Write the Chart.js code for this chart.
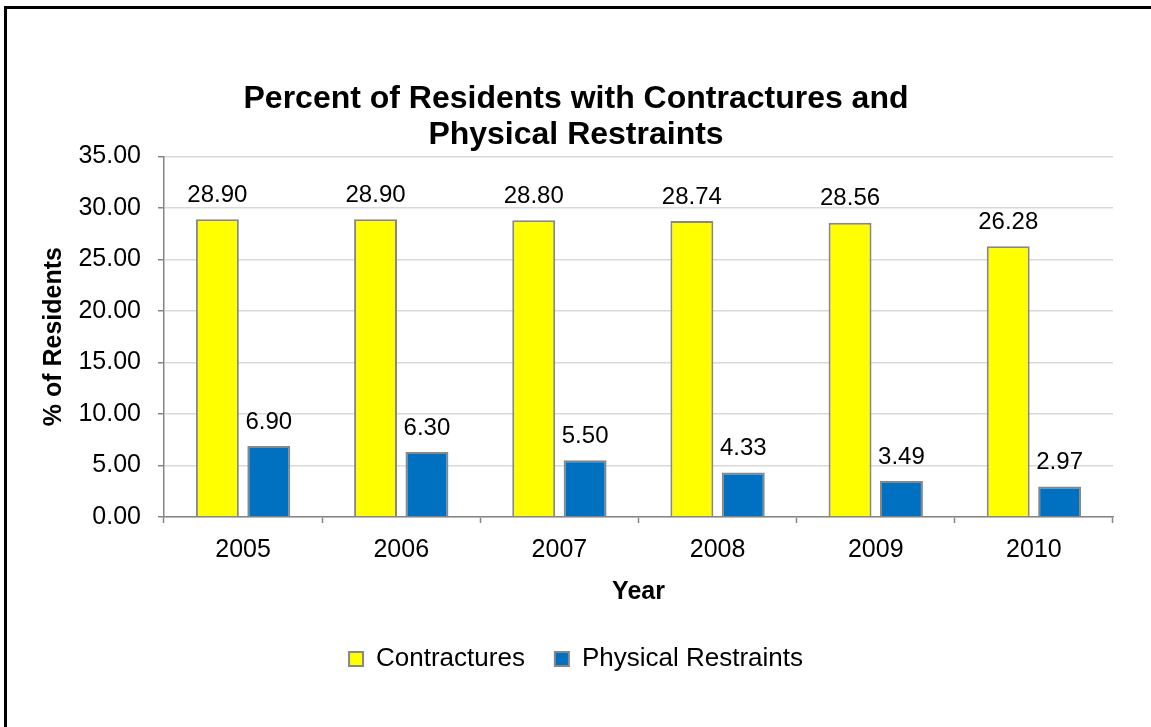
<!DOCTYPE html>
<html>
<head>
<meta charset="utf-8">
<script src="https://cdn.jsdelivr.net/npm/chart.js@4"></script>
<style>
    body { margin: 0; background: #fff; }
    #frame {
        position: absolute; left: 4px; top: 6px; width: 1300px; height: 900px;
        border-top: 3px solid #000; border-left: 3px solid #000;
    }
    #chart { position: absolute; left: 0; top: 0; }
</style>
</head>
<body>
<div id="frame"></div>
<canvas id="chart" width="1151" height="727"></canvas>
<script>
const years = ['2005', '2006', '2007', '2008', '2009', '2010'];
const contractures = [28.90, 28.90, 28.80, 28.74, 28.56, 26.28];
const restraints = [6.90, 6.30, 5.50, 4.33, 3.49, 2.97];
const yTicks = [0, 5, 10, 15, 20, 25, 30, 35];

const FONT = "'Liberation Sans', Arial, sans-serif";

// draws the value above each bar
const valueLabels = {
    id: 'valueLabels',
    afterDatasetsDraw(chart) {
        const ctx = chart.ctx;
        ctx.save();
        ctx.font = '24px ' + FONT;
        ctx.fillStyle = '#000';
        ctx.textAlign = 'center';
        ctx.textBaseline = 'middle';
        chart.data.datasets.forEach((ds, i) => {
            chart.getDatasetMeta(i).data.forEach((bar, j) => {
                ctx.fillText(ds.data[j].toFixed(2), bar.x, bar.y - 24);
            });
        });
        ctx.restore();
    }
};

new Chart(document.getElementById('chart').getContext('2d'), {
    type: 'bar',
    data: {
        labels: years,
        datasets: [{
            label: 'Contractures',
            data: contractures,
            backgroundColor: '#ffff00',
            borderColor: '#878787',
            borderWidth: 2
        }, {
            label: 'Physical Restraints',
            data: restraints,
            backgroundColor: '#0070c0',
            borderColor: '#878787',
            borderWidth: 2
        }]
    },
    options: {
        responsive: false,
        animation: false,
        categoryPercentage: 0.65,
        barPercentage: 0.835,
        layout: { padding: { left: 39, right: 38, top: 72, bottom: 45 } },
        plugins: {
            title: {
                display: true,
                text: ['Percent of Residents with Contractures and', 'Physical Restraints'],
                color: '#000',
                font: { family: FONT, size: 32, weight: 'bold', lineHeight: 1.1 },
                padding: { top: 10, bottom: 4 }
            },
            legend: {
                position: 'bottom',
                labels: {
                    color: '#000',
                    boxWidth: 14,
                    boxHeight: 14,
                    padding: 30,
                    font: { family: FONT, size: 26 }
                }
            },
            tooltip: { enabled: false }
        },
        scales: {
            x: {
                grid: {
                    offset: true,
                    drawOnChartArea: false,
                    tickLength: 6,
                    tickColor: '#868686',
                    tickWidth: 1.5
                },
                border: { color: '#868686', width: 1.5 },
                ticks: { color: '#000', padding: 12, font: { family: FONT, size: 25 } },
                title: {
                    display: true,
                    text: 'Year',
                    color: '#000',
                    font: { family: FONT, size: 25, weight: 'bold' },
                    padding: { top: 0, bottom: 9 }
                }
            },
            y: {
                min: 0,
                max: 35,
                afterBuildTicks: scale => {
                    scale.ticks = yTicks.map(v => ({ value: v }));
                },
                afterFit: scale => {
                    scale.width = 125;
                },
                grid: {
                    color: '#d9d9d9',
                    lineWidth: 1.5,
                    tickLength: 6,
                    tickColor: '#868686',
                    tickWidth: 1.5
                },
                border: { color: '#868686', width: 1.5 },
                ticks: {
                    color: '#000',
                    padding: 17,
                    font: { family: FONT, size: 25 },
                    callback: v => v.toFixed(2)
                },
                title: {
                    display: true,
                    text: '% of Residents',
                    color: '#000',
                    font: { family: FONT, size: 25, weight: 'bold' },
                    padding: { top: 0, bottom: 9 }
                }
            }
        }
    },
    plugins: [valueLabels]
});
</script>
</body>
</html>
